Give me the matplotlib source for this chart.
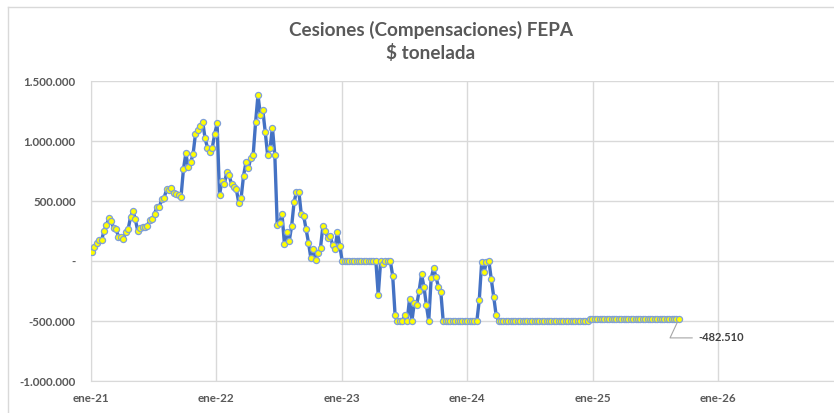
import numpy as np
import pandas as pd
import matplotlib
matplotlib.use("Agg")
import matplotlib.pyplot as plt
from matplotlib.lines import Line2D
from matplotlib.ticker import FuncFormatter

# weekly values, thousands of $ per tonne
vals_2021 = [78, 120, 147, 175, 175, 253, 300, 355, 333, 272,
             264, 203, 203, 183, 239, 264, 364, 419, 347, 250,
             278, 280, 286, 294, 342, 347, 392, 453, 453, 514,
             528, 597, 592, 611, 564, 556, 550, 536, 764, 897,
             781, 822, 889, 1058, 1092, 1128, 1161, 1022, 944, 905,
             944, 1058, 1147]
vals_2022 = [550, 669, 639, 739, 717, 639, 619, 597, 486, 528,
             711, 822, 772, 861, 883, 1156, 1383, 1217, 1258, 1078,
             883, 939, 1111, 883, 300, 319, 389, 139, 244, 169,
             292, 489, 578, 578, 389, 375, 264, 153, 22, 100,
             8, 69, 111, 294, 253, 194, 211, 133, 100, 239,
             128]
vals_zero_2023 = [0] * 15
vals_2023 = [-283, 0, -25, 0, 0, 0, -122, -450, -500, -500,
             -500, -450, -500, -317, -500, -347, -367, -247, -111, -214,
             -367, -500, -144, -61, -131, -214, -256, -500]
vals_flat_a = [-500] * 14
vals_2024 = [-325, -11, -94, -6, 0, -153, -297, -450]
vals_flat_b = [-500] * 38
vals_flat_c = [-482.51] * 38

values = np.array(vals_2021 + vals_2022 + vals_zero_2023 + vals_2023
                  + vals_flat_a + vals_2024 + vals_flat_b + vals_flat_c) * 1000
dates = pd.date_range("2021-01-04", periods=len(values), freq="7D")

year_ticks = pd.to_datetime(["2021-01-01", "2022-01-01", "2023-01-01",
                             "2024-01-01", "2025-01-01", "2026-01-01"])
year_labels = ["ene-21", "ene-22", "ene-23", "ene-24", "ene-25", "ene-26"]

gray_txt = "#595959"
grid_c = "#D9D9D9"

plt.rcParams["font.family"] = ["Lato", "DejaVu Sans"]

fig = plt.figure(figsize=(8.34, 4.13), dpi=100)
ax = fig.add_axes([91 / 834, 1 - 381 / 413, 1 - 91 / 834, 300 / 413])

ax.plot(dates, values, color="#4472C4", lw=2.4, marker="o", ms=4.4,
        mfc="#FFFF00", mec="#7F9FD8", mew=0.9, zorder=3)

ax.set_ylim(-1_000_000, 1_500_000)
ax.set_yticks(np.arange(-1_000_000, 1_500_001, 500_000))
ax.yaxis.set_major_formatter(FuncFormatter(
    lambda v, p: "-" if v == 0 else f"{v:,.0f}".replace(",", ".")))

x0 = pd.Timestamp("2021-01-01")
ax.set_xlim(x0, x0 + pd.Timedelta(days=(834 - 91) / 125.5 * 365.25))
ax.set_xticks(year_ticks)
ax.set_xticklabels(year_labels)

ax.grid(True, color=grid_c, lw=1)
ax.set_axisbelow(True)
for s in ["top", "right"]:
    ax.spines[s].set_visible(False)
for s in ["left", "bottom"]:
    ax.spines[s].set_color(grid_c)
ax.tick_params(length=0, colors=gray_txt, labelsize=8.4)
ax.tick_params(axis="y", pad=11)
ax.tick_params(axis="x", pad=9)
for lab in ax.get_xticklabels() + ax.get_yticklabels():
    lab.set_fontweight("bold")

ax.annotate(f"{values[-1] / 1000:.3f}", xy=(dates[-1], values[-1]),
            xytext=(19, -19), textcoords="offset pixels", ha="left", va="center",
            fontsize=8, fontweight="bold", color="#404040",
            arrowprops=dict(arrowstyle="-", color="#A6A6A6", lw=0.8,
                            relpos=(0, 0.5), shrinkA=2, shrinkB=2,
                            connectionstyle="angle,angleA=0,angleB=65,rad=0"))

fig.text(431 / 834, 1 - 30 / 413, "Cesiones (Compensaciones) FEPA", ha="center",
         va="center", fontsize=13.6, fontweight="bold", color=gray_txt)
fig.text(431 / 834, 1 - 53 / 413, "$ tonelada", ha="center",
         va="center", fontsize=13.6, fontweight="bold", color=gray_txt)

# outer chart frame (cropped at right and bottom)
fig.add_artist(Line2D([8 / 834, 8 / 834], [0, 1 - 7 / 413], color=grid_c, lw=1))
fig.add_artist(Line2D([8 / 834, 1], [1 - 7 / 413, 1 - 7 / 413], color=grid_c, lw=1))

fig.savefig("out.png", dpi=100)
